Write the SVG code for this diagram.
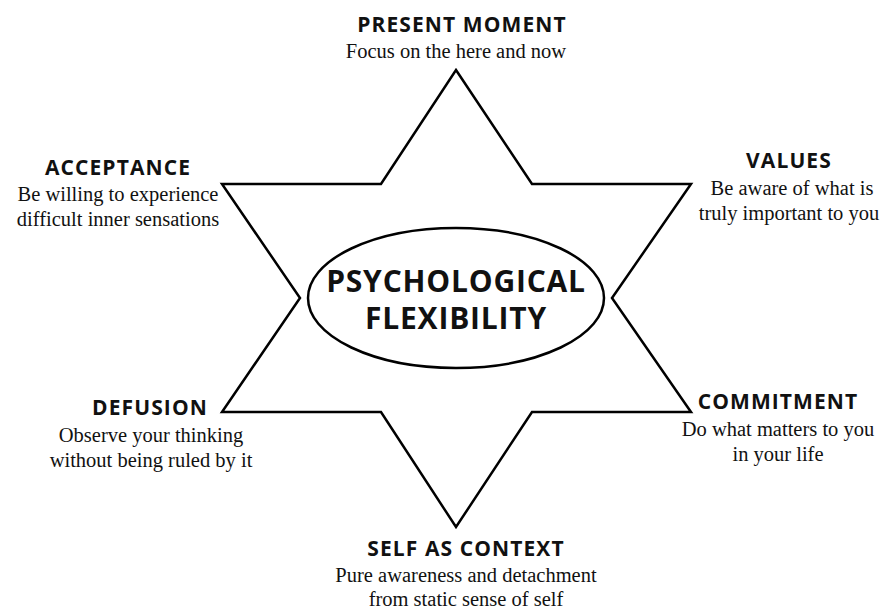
<svg xmlns="http://www.w3.org/2000/svg" width="888" height="610" viewBox="0 0 888 610">
<style>
.h{font-family:"Open Sans","Liberation Sans",sans-serif;font-weight:700;font-size:21px;letter-spacing:1.1px;fill:#111;text-anchor:middle}
.b{font-family:"Liberation Serif","DejaVu Serif",serif;font-size:20.5px;fill:#111;text-anchor:middle}
.c{font-family:"Open Sans","Liberation Sans",sans-serif;font-weight:700;font-size:30px;letter-spacing:0.8px;fill:#111;text-anchor:middle}
.s{fill:none;stroke:#000;stroke-width:2.5;stroke-linejoin:miter}
</style>
<rect width="888" height="610" fill="#fff"/>
<g id="star">
<polygon class="s" points="456,70 532,184 691,184 612,298 691,412 532,412 456,527 381,412 222,412 300,298 222,184 381,184"/>
</g>
<g id="center">
<ellipse class="s" cx="456" cy="298" rx="148" ry="70"/>
<text class="c" x="456" y="292">PSYCHOLOGICAL</text>
<text class="c" x="456" y="329">FLEXIBILITY</text>
</g>
<g id="present">
<text class="h" x="462" y="32">PRESENT MOMENT</text>
<text class="b" x="456" y="58">Focus on the here and now</text>
</g>
<g id="acceptance">
<text class="h" x="118" y="175">ACCEPTANCE</text>
<text class="b" x="118" y="201">Be willing to experience</text>
<text class="b" x="118" y="226">difficult inner sensations</text>
</g>
<g id="values">
<text class="h" x="789" y="168">VALUES</text>
<text class="b" x="792" y="195">Be aware of what is</text>
<text class="b" x="789" y="220">truly important to you</text>
</g>
<g id="defusion">
<text class="h" x="150" y="415">DEFUSION</text>
<text class="b" x="151" y="442">Observe your thinking</text>
<text class="b" x="151" y="467">without being ruled by it</text>
</g>
<g id="commitment">
<text class="h" x="778" y="409">COMMITMENT</text>
<text class="b" x="778" y="436">Do what matters to you</text>
<text class="b" x="778" y="461">in your life</text>
</g>
<g id="self">
<text class="h" x="466" y="556">SELF AS CONTEXT</text>
<text class="b" x="466" y="582">Pure awareness and detachment</text>
<text class="b" x="466" y="606">from static sense of self</text>
</g>
</svg>
